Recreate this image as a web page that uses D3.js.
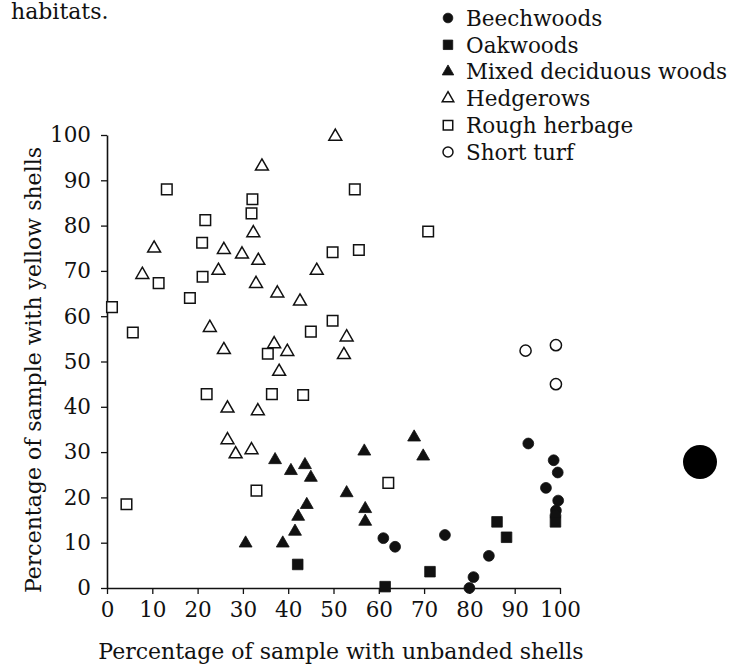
<!DOCTYPE html>
<html>
<head>
<meta charset="utf-8">
<script src="https://cdn.jsdelivr.net/npm/d3@7/dist/d3.min.js"></script>
<style>
  body { margin: 0; background: #fff; }
  text { font-family: "DejaVu Serif", serif; fill: #111; }
</style>
</head>
<body>
<div id="chart"></div>
<script>
// habitats and the points: [unbanded %, yellow %]
var habitats = ["Beechwoods", "Oakwoods", "Mixed deciduous woods", "Hedgerows", "Rough herbage", "Short turf"];

var beechwoods = [[61, 11], [63.6, 9.1], [74.6, 11.7], [84.3, 7.1], [80.9, 2.4], [80, 0],
                  [93, 31.9], [98.6, 28.2], [99.5, 25.5], [96.9, 22.1], [99.6, 19.3], [99.1, 17.1], [99, 16]];
var oakwoods = [[42.1, 5.2], [61.4, 0.3], [71.3, 3.6], [86.1, 14.6], [88.2, 11.2], [99, 14.6]];
var mixedWoods = [[30.6, 10.2], [38.8, 10.2], [41.5, 12.8], [42.2, 16.1], [44.1, 18.7], [37.1, 28.6],
                  [40.6, 26.2], [43.7, 27.5], [45, 24.7], [52.9, 21.3], [56.8, 30.5], [57, 17.8],
                  [57, 15], [67.8, 33.6], [69.8, 29.4]];
var hedgerows = [[10.4, 75.3], [7.8, 69.5], [25.8, 75], [24.6, 70.4], [22.7, 57.8], [25.8, 52.9],
                 [29.8, 74], [32.3, 78.7], [33.4, 72.6], [32.9, 67.5], [34.2, 93.4], [50.4, 100],
                 [46.3, 70.4], [37.6, 65.4], [42.6, 63.6], [52.9, 55.7], [36.9, 54.2], [39.8, 52.5],
                 [52.3, 51.8], [38, 48.1], [33.3, 39.4], [31.9, 30.8], [26.6, 40], [26.6, 33], [28.4, 29.9]];
var roughHerbage = [[1.1, 62], [5.7, 56.4], [13.2, 88], [11.4, 67.3], [18.3, 64], [21.7, 81.2],
                    [21, 76.2], [21.1, 68.7], [32.1, 85.8], [31.9, 82.7], [54.7, 88], [70.9, 78.7],
                    [49.8, 74.1], [55.6, 74.6], [49.8, 59], [45, 56.6], [35.5, 51.7], [36.4, 42.8],
                    [43.3, 42.6], [33, 21.5], [62.1, 23.2], [22, 42.8], [4.3, 18.5]];
var shortTurf = [[92.4, 52.4], [99.1, 53.6], [99.1, 45]];

var xTicks = [0, 10, 20, 30, 40, 50, 60, 70, 80, 90, 100];
var yTicks = [0, 10, 20, 30, 40, 50, 60, 70, 80, 90, 100];

var width = 730, height = 672;
var margin = {top: 135, right: 170, bottom: 84, left: 107};

var svg = d3.select("#chart")
            .append("svg")
            .attr("width", width)
            .attr("height", height);

var x = d3.scaleLinear().domain([0, 100]).range([margin.left, width - margin.right]);
var y = d3.scaleLinear().domain([0, 100]).range([height - margin.bottom, margin.top]);

// caption fragment left over at the top of the scan
svg.append("text")
   .attr("x", 11)
   .attr("y", 19)
   .style("font-size", "22px")
   .text("habitats.");

// axes
var xAxis = svg.append("g")
               .attr("transform", "translate(0," + y(0) + ")")
               .call(d3.axisBottom(x).tickValues(xTicks).tickSize(6).tickSizeOuter(0).tickPadding(8));
var yAxis = svg.append("g")
               .attr("transform", "translate(" + x(0) + ",0)")
               .call(d3.axisLeft(y).tickValues(yTicks).tickSize(6).tickSizeOuter(0).tickPadding(10));

[xAxis, yAxis].forEach(function(a) {
    a.select(".domain").attr("stroke", "#111").attr("stroke-width", 1.6);
    a.selectAll(".tick line").attr("stroke", "#111").attr("stroke-width", 1.3);
    a.selectAll(".tick text")
     .attr("fill", "#111")
     .style("font-family", "'DejaVu Serif', serif")
     .style("font-size", "21.5px");
});

// axis titles
svg.append("text")
   .attr("x", 341)
   .attr("y", 659)
   .attr("text-anchor", "middle")
   .style("font-size", "22px")
   .text("Percentage of sample with unbanded shells");

svg.append("text")
   .attr("transform", "translate(41,370) rotate(-90)")
   .attr("text-anchor", "middle")
   .style("font-size", "22px")
   .text("Percentage of sample with yellow shells");

// one entry per habitat: data, symbol type, filled or not
var series = [
    {name: habitats[0], data: beechwoods,   shape: d3.symbolCircle,   size: 92,  filled: true},
    {name: habitats[1], data: oakwoods,     shape: d3.symbolSquare,   size: 112, filled: true},
    {name: habitats[2], data: mixedWoods,   shape: d3.symbolTriangle, size: 72,  filled: true},
    {name: habitats[3], data: hedgerows,    shape: d3.symbolTriangle, size: 72,  filled: false},
    {name: habitats[4], data: roughHerbage, shape: d3.symbolSquare,   size: 112, filled: false},
    {name: habitats[5], data: shortTurf,    shape: d3.symbolCircle,   size: 98,  filled: false}
];

function styleMark(sel, s) {
    sel.attr("d", d3.symbol().type(s.shape).size(s.size))
       .attr("fill", s.filled ? "#111" : "#fff")
       .attr("stroke", "#111")
       .attr("stroke-width", s.filled ? 0.8 : 1.5);
}

series.forEach(function(s) {
    var g = svg.append("g");
    g.selectAll("path")
     .data(s.data)
     .enter()
     .append("path")
     .attr("transform", function(d) {
         var dy = s.shape === d3.symbolTriangle ? 1.5 : 0;
         return "translate(" + x(d[0]) + "," + (y(d[1]) + dy) + ")";
     })
     .call(styleMark, s);
});

// legend
var legend = svg.append("g").attr("transform", "translate(448,18)");
var rows = legend.selectAll("g")
                 .data(series)
                 .enter()
                 .append("g")
                 .attr("transform", function(d, i) { return "translate(0," + (i * 26.8) + ")"; });
rows.each(function(s) {
    d3.select(this).append("path").call(styleMark, {shape: s.shape, size: s.size * 0.8, filled: s.filled});
});
rows.append("text")
    .attr("x", 18)
    .attr("dy", "0.36em")
    .style("font-size", "21.5px")
    .text(function(d) { return d.name; });

// hole-punch mark on the right edge of the scan
svg.append("circle")
   .attr("cx", 700)
   .attr("cy", 462)
   .attr("r", 17)
   .attr("fill", "#000");
</script>
</body>
</html>
